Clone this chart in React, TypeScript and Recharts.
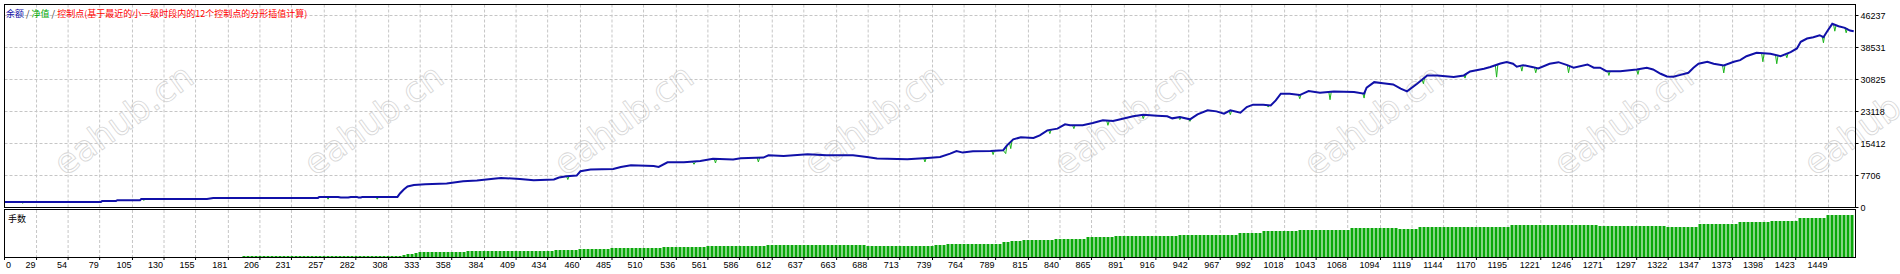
import React from 'react';
import { ComposedChart, Line, Bar, XAxis, YAxis, CartesianGrid } from 'recharts';

// ---- data ----
const balancePoints: [number, number][] = [
  [4, 1350], [80, 1350], [81, 1590], [92, 1590], [93, 1750], [111, 1750], [112, 2070], [164, 2070], [169, 2310],
  [252, 2310], [253, 2550], [268, 2550], [270, 2400], [276, 2400], [278, 2550], [283, 2550], [284, 2400], [286, 2400],
  [287, 2550], [315, 2550], [317, 3370], [320, 4330], [323, 5050], [328, 5410], [337, 5600], [354, 5770], [367, 6320],
  [378, 6510], [391, 6920], [397, 7120], [412, 6880], [423, 6560], [439, 6730], [443, 7210], [449, 7520], [457, 7690],
  [460, 8730], [468, 9140], [486, 9280], [492, 9760], [500, 10170], [518, 10000], [522, 9760], [529, 10890], [542, 10890],
  [555, 11200], [565, 11730], [581, 11540], [587, 11850], [605, 12020], [609, 12570], [621, 12400], [640, 12810],
  [655, 12570], [676, 12570], [687, 12160], [695, 11780], [719, 11610], [735, 11920], [745, 12160], [753, 12980],
  [758, 13610], [763, 13220], [771, 13530], [785, 13610], [795, 13770], [798, 14980], [803, 16420], [809, 16900],
  [819, 16730], [824, 17380], [830, 18580], [838, 18990], [844, 20030], [848, 19790], [858, 19790], [866, 20340],
  [874, 20990], [882, 20820], [888, 21230], [898, 21950], [906, 22360], [917, 22120], [925, 21950], [929, 21470],
  [935, 21780], [943, 21230], [949, 22430], [957, 23390], [964, 23150], [970, 22600], [975, 23390], [983, 22840],
  [988, 24180], [993, 24760], [1001, 24760], [1007, 24590], [1011, 25800], [1015, 27410], [1022, 27410], [1030, 27070],
  [1037, 28030], [1046, 27650], [1057, 27960], [1073, 27790], [1081, 27410], [1083, 28850], [1089, 30190], [1096, 29950],
  [1104, 29640], [1110, 28610], [1115, 27960], [1123, 29810], [1131, 31800], [1139, 31800], [1152, 31400], [1160, 31800],
  [1165, 32770], [1176, 33420], [1181, 33850], [1189, 34690], [1194, 35050], [1199, 34620], [1202, 33900], [1207, 34280],
  [1215, 33800], [1219, 33490], [1228, 34620], [1235, 35000], [1242, 34280], [1247, 33660], [1258, 34450], [1263, 33660],
  [1268, 33660], [1273, 32840], [1284, 32840], [1297, 33250], [1305, 33660], [1310, 33250], [1316, 32210], [1321, 31560],
  [1326, 31490], [1331, 31880], [1338, 32450], [1342, 33660], [1346, 34620], [1353, 35100], [1358, 34620], [1366, 34210],
  [1374, 35100], [1379, 35480], [1384, 36440], [1392, 37260], [1403, 37020], [1411, 36440], [1419, 37410], [1424, 38300],
  [1427, 39910], [1432, 40700], [1437, 41010], [1442, 41490], [1445, 41010], [1448, 42460], [1452, 44230], [1457, 43660],
  [1462, 43270], [1466, 42620], [1469, 42460],
];

// equity only shows where it drops below the balance line
const equityDips: [number, number | null][] = [
  [17, 1350], [18, 1000], [19, 1350], [19.5, null],
  [113, 2070], [114, 1690], [115, 2070], [115.5, null],
  [259, 2550], [260, 2000], [261, 2550], [261.5, null],
  [298, 2550], [299, 2000], [300, 2550], [300.5, null],
  [449, 7520], [450, 6730], [451, 7560], [451.5, null],
  [549, 10890], [550, 10410], [551, 10920], [551.5, null],
  [566, 11720], [567, 10720], [568, 11710], [568.5, null],
  [600, 11970], [601, 10960], [602, 11990], [602.5, null],
  [732, 11860], [733, 10960], [734, 11900], [734.5, null],
  [786, 13620], [787, 12740], [788, 13630], [788.5, null],
  [795, 13770], [797, 12980], [798, 14980], [798.5, null],
  [800, 15560], [801, 14180], [802, 16130], [802.5, null],
  [831, 18630], [832, 17790], [833, 18730], [833.5, null],
  [850, 19790], [851, 18990], [852, 19790], [852.5, null],
  [877, 20930], [878, 19790], [879, 20880], [879.5, null],
  [905, 22310], [906, 21400], [907, 22340], [907.5, null],
  [934, 21740], [935, 21160], [936, 21690], [936.5, null],
  [942, 21290], [943, 20750], [944, 21430], [944.5, null],
  [974, 23260], [975, 22360], [976, 23320], [976.5, null],
  [1004, 24680], [1005, 24180], [1006, 24620], [1006.5, null],
  [1029, 27110], [1030, 26200], [1031, 27210], [1031.5, null],
  [1053, 27870], [1054, 25960], [1055, 27900], [1055.5, null],
  [1080, 27460], [1081, 26350], [1082, 28130], [1082.5, null],
  [1127, 30800], [1128, 29810], [1129, 31300], [1129.5, null],
  [1160, 31800], [1161, 31160], [1162, 32190], [1162.5, null],
  [1185, 34270], [1186, 31400], [1187, 34480], [1187.5, null],
  [1205, 34180], [1206, 32840], [1207, 34280], [1207.5, null],
  [1216, 33720], [1217, 32450], [1218, 33570], [1218.5, null],
  [1242, 34280], [1243, 32450], [1244, 34030], [1244.5, null],
  [1274, 32840], [1275, 31800], [1276, 32840], [1276.5, null],
  [1297, 33250], [1298, 32050], [1299, 33300], [1299.5, null],
  [1365, 34260], [1366, 32410], [1367, 34320], [1367.5, null],
  [1396, 37160], [1397, 35100], [1398, 37130], [1398.5, null],
  [1407, 36730], [1408, 34620], [1409, 36590], [1409.5, null],
  [1415, 36920], [1416, 36060], [1417, 37170], [1417.5, null],
  [1444, 41170], [1445, 39670], [1446, 41500], [1446.5, null],
  [1453, 44090], [1454, 42460], [1455, 43890], [1455.5, null],
  [1462, 43270], [1463, 42070], [1464, 43110],
];

// lot sizes (one histogram column each)
const lots: number[] = [
  0, 0, 0, 0, 0, 0, 0, 0, 0, 0,
  0, 0, 0, 0, 0, 0, 0, 0, 0, 0,
  0, 0, 0, 0, 0, 0, 0, 0, 0, 0,
  0, 0, 0, 0, 0, 0, 0, 0, 0, 0,
  0, 0, 0, 0, 0, 0, 0, 0, 0, 0,
  0, 0, 0, 0, 0, 0, 0, 0, 0,
  0.01, 0.01, 0.01, 0.01, 0.01, 0.01, 0.01, 0.01, 0.01, 0.01,
  0.01, 0.01, 0.01, 0.01, 0.01, 0.01, 0.01, 0.01, 0.01, 0.01,
  0.01, 0.01, 0.01, 0.01, 0.01, 0.01, 0.01, 0.01, 0.01, 0.01,
  0.01, 0.01, 0.01, 0.01, 0.01, 0.01, 0.01, 0.01, 0.01, 0.01,
  0.02, 0.03, 0.03, 0.04,
  0.05, 0.05, 0.05, 0.05, 0.05, 0.05, 0.05, 0.05, 0.05, 0.05, 0.05, 0.05,
  0.06, 0.06, 0.06, 0.06, 0.06, 0.06, 0.06, 0.06, 0.06, 0.06,
  0.06, 0.06, 0.06, 0.06, 0.06, 0.06, 0.06, 0.06, 0.06, 0.06, 0.06, 0.06,
  0.07, 0.07, 0.07, 0.07, 0.07, 0.07,
  0.08, 0.08, 0.08, 0.08, 0.08, 0.08, 0.08, 0.08,
  0.09, 0.09, 0.09, 0.09, 0.09, 0.09, 0.09, 0.09, 0.09, 0.09, 0.09, 0.09, 0.09,
  0.1, 0.1, 0.1, 0.1, 0.1, 0.1, 0.1, 0.1, 0.1, 0.1, 0.1,
  0.11, 0.11, 0.11, 0.11, 0.11, 0.11, 0.11, 0.11, 0.11, 0.11, 0.11, 0.11, 0.11, 0.11, 0.11,
  0.12, 0.12, 0.12, 0.12, 0.12, 0.12, 0.12, 0.12, 0.12, 0.12,
  0.12, 0.12, 0.12, 0.12, 0.12, 0.12, 0.12, 0.12, 0.12, 0.12, 0.12, 0.12, 0.12, 0.12, 0.12,
  0.11, 0.11, 0.11, 0.11, 0.11, 0.11, 0.11, 0.11, 0.11, 0.11, 0.11, 0.11, 0.11, 0.11, 0.11, 0.11, 0.11,
  0.12, 0.12, 0.12,
  0.13, 0.13, 0.13, 0.13, 0.13, 0.13, 0.13, 0.13, 0.13, 0.13, 0.13, 0.13, 0.13, 0.13,
  0.15, 0.15,
  0.16, 0.16, 0.16,
  0.17, 0.17, 0.17, 0.17, 0.17, 0.17, 0.17, 0.17,
  0.18, 0.18, 0.18, 0.18, 0.18, 0.18, 0.18, 0.18,
  0.2, 0.2, 0.2, 0.2, 0.2, 0.2, 0.2,
  0.21, 0.21, 0.21, 0.21, 0.21, 0.21, 0.21, 0.21, 0.21, 0.21, 0.21, 0.21, 0.21, 0.21, 0.21, 0.21,
  0.22, 0.22, 0.22, 0.22, 0.22, 0.22, 0.22, 0.22, 0.22, 0.22, 0.22, 0.22, 0.22, 0.22, 0.22,
  0.24, 0.24, 0.24, 0.24, 0.24, 0.24,
  0.26, 0.26, 0.26, 0.26, 0.26, 0.26, 0.26, 0.26, 0.26,
  0.27, 0.27, 0.27, 0.27, 0.27, 0.27, 0.27, 0.27, 0.27, 0.27, 0.27, 0.27, 0.27,
  0.29, 0.29, 0.29, 0.29, 0.29, 0.29, 0.29, 0.29, 0.29, 0.29, 0.29, 0.29,
  0.28, 0.28, 0.28, 0.28, 0.28,
  0.3, 0.3, 0.3, 0.3, 0.3, 0.3, 0.3, 0.3, 0.3, 0.3,
  0.3, 0.3, 0.3, 0.3, 0.3, 0.3, 0.3, 0.3, 0.3, 0.3, 0.3, 0.3, 0.3,
  0.32, 0.32, 0.32, 0.32, 0.32, 0.32, 0.32, 0.32, 0.32, 0.32,
  0.32, 0.32, 0.32, 0.32, 0.32, 0.32, 0.32, 0.32, 0.32, 0.32, 0.32, 0.32,
  0.31, 0.31, 0.31, 0.31, 0.31, 0.31, 0.31, 0.31, 0.31, 0.31, 0.31, 0.31, 0.31, 0.31, 0.31, 0.31, 0.31,
  0.3, 0.3, 0.3, 0.3, 0.3, 0.3, 0.3, 0.3,
  0.33, 0.33, 0.33, 0.33, 0.33, 0.33, 0.33, 0.33, 0.33, 0.33,
  0.35, 0.35, 0.35, 0.35, 0.35, 0.35, 0.35, 0.35,
  0.36, 0.36, 0.36, 0.36, 0.36, 0.36, 0.36,
  0.39, 0.39, 0.39, 0.39, 0.39, 0.39, 0.39,
  0.42, 0.42, 0.42, 0.42, 0.42, 0.42, 0.42,
];

const xTicks = [3.6, 29, 54, 79, 105, 130, 155, 181, 206, 231, 257, 282, 308, 333, 358, 384, 409, 434, 460, 485, 510,
  536, 561, 586, 612, 637, 663, 688, 713, 739, 764, 789, 815, 840, 865, 891, 916, 942, 967, 992, 1018, 1043, 1068,
  1094, 1119, 1144, 1170, 1195, 1221, 1246, 1271, 1297, 1322, 1347, 1373, 1398, 1423, 1449];
const xTickLabels = ['0', '29', '54', '79', '105', '130', '155', '181', '206', '231', '257', '282', '308', '333', '358',
  '384', '409', '434', '460', '485', '510', '536', '561', '586', '612', '637', '663', '688', '713', '739', '764', '789',
  '815', '840', '865', '891', '916', '942', '967', '992', '1018', '1043', '1068', '1094', '1119', '1144', '1170', '1195',
  '1221', '1246', '1271', '1297', '1322', '1347', '1373', '1398', '1423', '1449'];
const yTicks = [0, 7706, 15412, 23118, 30825, 38531, 46237];

const watermarkX = [65, 315, 565, 815, 1065, 1315, 1565, 1815];

// ---- tables for the library ----
const balanceRows = balancePoints.map(([t, v]) => ({ t, v }));
const equityRows = equityDips.map(([t, v]) => ({ t, v }));
const lotRows = lots.map((v, i) => ({ i, v }));

const FONT = '"Liberation Sans", Arial, sans-serif';
const CJK = '"Noto Sans CJK SC", "Noto Sans", sans-serif';
const BLUE = '#1010a8';
const GREEN = '#1cb41c';
const BAR_GREEN = '#0aa80a';
const GRID = '#c6c6c6';
const X_DOMAIN: [number, number] = [3.6, 1470.4];

function XTick(props: any) {
  const { x, payload } = props;
  const idx = xTicks.indexOf(payload.value);
  const first = idx === 0;
  return (
    <text
      x={x}
      y={props.y}
      dx={first ? 1.5 : -1}
      dy={6}
      textAnchor={first ? 'start' : 'end'}
      fontSize={9}
      fontFamily={FONT}
      fill="#000"
    >
      {xTickLabels[idx]}
    </text>
  );
}

export default function App() {
  const abs: React.CSSProperties = { position: 'absolute', left: 0, top: 0 };
  return (
    <div style={{ position: 'absolute', left: 0, top: 0, width: 1900, height: 274, background: '#fff', overflow: 'hidden' }}>
      {/* watermark */}
      <svg width={1900} height={274} style={abs}>
        {watermarkX.map((wx) => (
          <text
            key={wx}
            x={wx}
            y={177}
            transform={`rotate(-36 ${wx} 177)`}
            fontSize={35}
            fontFamily='"DejaVu Sans", sans-serif'
            fill="none"
            stroke="#d6d6d6"
            strokeWidth={0.8}
          >
            eahub.cn
          </text>
        ))}
      </svg>

      {/* main equity panel */}
      <div style={abs}>
        <ComposedChart width={1900} height={212} margin={{ top: 4.5, right: 4.5, bottom: 4.5, left: 4.5 }}>
          <CartesianGrid stroke={GRID} strokeDasharray="3 2" />
          <XAxis dataKey="t" type="number" domain={X_DOMAIN} ticks={xTicks} allowDataOverflow hide interval={0} height={0} />
          <YAxis
            orientation="right"
            width={40}
            domain={[0, 48886]}
            ticks={yTicks}
            allowDataOverflow
            interval={0}
            axisLine={false}
            tickLine={{ stroke: '#000' }}
            tickSize={3}
            tickMargin={2}
            tick={{ fontSize: 9, fill: '#000', fontFamily: FONT }}
          />
          <Line data={equityRows} dataKey="v" type="linear" stroke={GREEN} strokeWidth={1} dot={false} activeDot={false} isAnimationActive={false} />
          <Line data={balanceRows} dataKey="v" type="linear" stroke={BLUE} strokeWidth={2} dot={false} activeDot={false} isAnimationActive={false} />
        </ComposedChart>
      </div>

      {/* lots panel */}
      <div style={abs}>
        <ComposedChart width={1900} height={274} data={lotRows} margin={{ top: 210, right: 44.5, bottom: 0, left: 4.5 }}>
          <CartesianGrid xAxisId="t" yAxisId="lots" horizontal={false} stroke={GRID} strokeDasharray="3 2" />
          <XAxis
            xAxisId="t"
            dataKey="t"
            type="number"
            domain={X_DOMAIN}
            ticks={xTicks}
            allowDataOverflow
            interval={0}
            height={17}
            axisLine={false}
            tickLine={{ stroke: '#000' }}
            tickSize={3}
            tickMargin={2}
            tick={XTick}
          />
          <XAxis xAxisId="cat" dataKey="i" type="category" hide height={0} padding={{ left: 1, right: 2 }} />
          <YAxis yAxisId="lots" hide domain={[0, 0.47]} allowDataOverflow />
          <YAxis yAxisId="hid" hide />
          <Bar xAxisId="cat" yAxisId="lots" dataKey="v" fill={BAR_GREEN} barSize={3} isAnimationActive={false} />
          <Line xAxisId="t" yAxisId="hid" data={balanceRows} dataKey="v" stroke="none" dot={false} activeDot={false} isAnimationActive={false} />
        </ComposedChart>
      </div>

      {/* panel frames */}
      <div style={{ position: 'absolute', left: 4, top: 4, width: 1852, height: 204, border: '1px solid #000', boxSizing: 'border-box' }} />
      <div style={{ position: 'absolute', left: 4, top: 209, width: 1852, height: 49, border: '1px solid #000', boxSizing: 'border-box' }} />

      {/* panel titles */}
      <svg width={1900} height={274} style={abs}>
        <text x={6} y={16.5} fontSize={9} fontFamily={CJK}>
          <tspan fill={BLUE}>余额</tspan>
          <tspan fill="#333"> / </tspan>
          <tspan fill="#00a800">净值</tspan>
          <tspan fill="#333"> / </tspan>
          <tspan fill="#ff0000">控制点(基于最近的小一级时段内的12个控制点的分形插值计算)</tspan>
        </text>
        <text x={8} y={221.5} fontSize={9} fontFamily={CJK} fill="#000">手数</text>
      </svg>
    </div>
  );
}
